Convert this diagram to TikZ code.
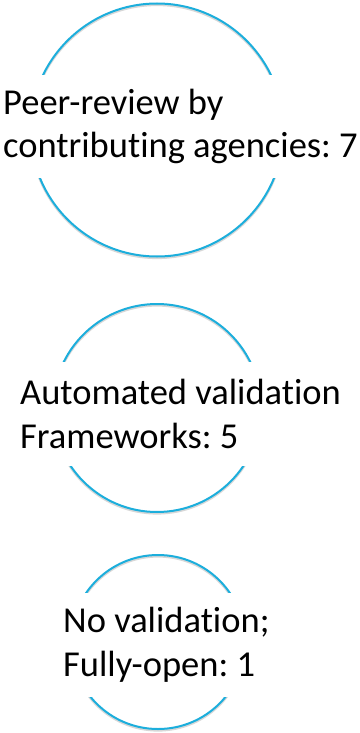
\documentclass[tikz,border=0pt]{standalone}
\usepackage{fontspec}
\setmainfont{Carlito}[Ligatures=NoCommon]
\usepackage{tikz}
\usetikzlibrary{positioning}
\definecolor{RingColor}{RGB}{28,174,220}
\definecolor{ShadeColor}{RGB}{215,215,215}
\frenchspacing

\begin{document}
\begin{tikzpicture}[x=1pt, y=1pt,
    ring/.style={circle, draw=RingColor, line width=2pt, inner sep=0pt},
    ringshade/.style={circle, draw=ShadeColor, line width=2.2pt, inner sep=0pt},
    tag/.style={fill=white, inner sep=0pt, align=left, anchor=west,
      font=\fontsize{36.5}{43.5}\selectfont}]
  \useasboundingbox (0,0) rectangle (359,-733);
  % soft shadow under each ring
  \node[ringshade, minimum size=253] at (157,-131.5) {};
  \node[ringshade, minimum size=208] at (157,-409.5) {};
  \node[ringshade, minimum size=174] at (158,-643.5) {};
  \node[ring, minimum size=253] (peer) at (157,-130) {};
  \node[ring, minimum size=208] (auto) at (157,-408) {};
  \node[ring, minimum size=174] (none) at (158,-642) {};
  % labels, their white box cuts the ring
  \node[tag, minimum height=103] (peertext) at (3,-126.5) {Peer-review by\\contributing agencies: 7};
  \node[tag, minimum height=104] (autotext) at (20,-414) {Automated validation\\Frameworks: 5};
  \node[tag, minimum height=104] (nonetext) at (63,-645) {No validation;\\Fully-open: 1};
\end{tikzpicture}
\end{document}
